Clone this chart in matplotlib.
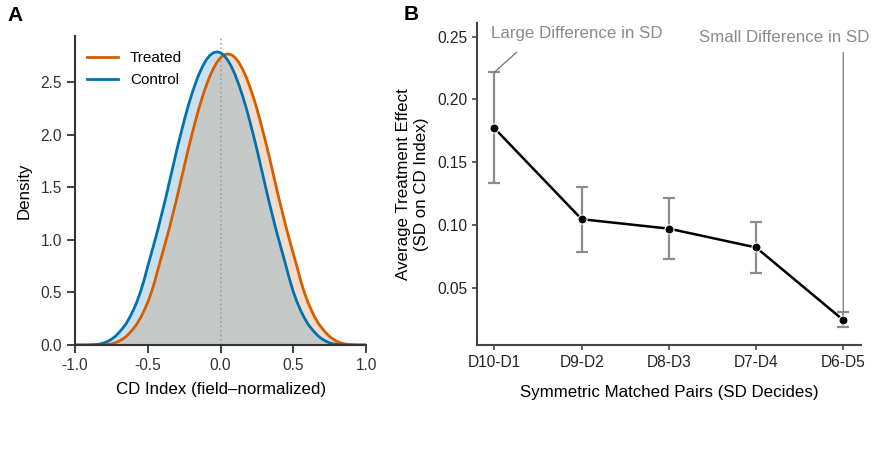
import numpy as np
import matplotlib
matplotlib.use("Agg")
import matplotlib.pyplot as plt

plt.rcParams['font.family'] = ['Liberation Sans', 'DejaVu Sans']
plt.rcParams['axes.unicode_minus'] = False

# ---- panel A: densities ----
cd_x = [-1.000, -0.975, -0.950, -0.925, -0.900, -0.875, -0.850, -0.825, -0.800, -0.775,
        -0.750, -0.725, -0.700, -0.675, -0.650, -0.625, -0.600, -0.575, -0.550, -0.525,
        -0.500, -0.475, -0.450, -0.425, -0.400, -0.375, -0.350, -0.325, -0.300, -0.275,
        -0.250, -0.225, -0.200, -0.175, -0.150, -0.125, -0.100, -0.075, -0.050, -0.025,
        0.000, 0.025, 0.050, 0.075, 0.100, 0.125, 0.150, 0.175, 0.200, 0.225,
        0.250, 0.275, 0.300, 0.325, 0.350, 0.375, 0.400, 0.425, 0.450, 0.475,
        0.500, 0.525, 0.550, 0.575, 0.600, 0.625, 0.650, 0.675, 0.700, 0.725,
        0.750, 0.775, 0.800, 0.825, 0.850, 0.875, 0.900, 0.925, 0.950, 0.975, 1.000]
control_density = [0.0, 0.0, 0.0, 0.0, 0.001, 0.003, 0.006, 0.011, 0.02, 0.035,
                   0.055, 0.08, 0.115, 0.155, 0.20, 0.26, 0.33, 0.41, 0.505, 0.62,
                   0.75, 0.875, 1.00, 1.13, 1.27, 1.41, 1.56, 1.71, 1.86, 2.00,
                   2.135, 2.262, 2.377, 2.48, 2.572, 2.648, 2.71, 2.754, 2.781, 2.79,
                   2.781, 2.754, 2.71, 2.648, 2.572, 2.48, 2.377, 2.262, 2.135, 2.00,
                   1.86, 1.71, 1.56, 1.41, 1.27, 1.13, 1.00, 0.875, 0.75, 0.62,
                   0.505, 0.41, 0.33, 0.26, 0.20, 0.155, 0.115, 0.08, 0.055, 0.035,
                   0.02, 0.011, 0.006, 0.003, 0.001, 0.0, 0.0, 0.0, 0.0, 0.0, 0.0]
treated_density = [0.0, 0.0, 0.0, 0.0, 0.0, 0.0, 0.0, 0.001, 0.003, 0.006,
                   0.011, 0.02, 0.035, 0.055, 0.079, 0.114, 0.154, 0.199, 0.258, 0.328,
                   0.407, 0.501, 0.616, 0.745, 0.869, 0.993, 1.122, 1.261, 1.40, 1.549,
                   1.698, 1.847, 1.986, 2.12, 2.246, 2.36, 2.463, 2.554, 2.629, 2.691,
                   2.735, 2.762, 2.77, 2.762, 2.735, 2.691, 2.629, 2.554, 2.463, 2.36,
                   2.246, 2.12, 1.986, 1.847, 1.698, 1.549, 1.40, 1.261, 1.122, 0.993,
                   0.869, 0.745, 0.616, 0.501, 0.407, 0.328, 0.258, 0.199, 0.154, 0.114,
                   0.079, 0.055, 0.035, 0.02, 0.011, 0.006, 0.003, 0.001, 0.0, 0.0, 0.0]

# ---- panel B: treatment effect by matched SD pair ----
pairs = ['D10-D1', 'D9-D2', 'D8-D3', 'D7-D4', 'D6-D5']
effect = [0.177, 0.1045, 0.097, 0.082, 0.0242]
ci_low = [0.133, 0.0785, 0.073, 0.0617, 0.0184]
ci_high = [0.2216, 0.1304, 0.121, 0.1024, 0.0306]

blue = '#0072B2'
orange = '#D55E00'
grey_txt = '#8a8a8a'
lab_fs = 12.2
tick_fs = 11.2

fig = plt.figure(figsize=(8.77, 4.51), dpi=100)
axA = fig.add_axes([0.0855, 0.235, 0.332, 0.685])
axB = fig.add_axes([0.5439, 0.235, 0.4375, 0.7146])

# panel A
x = np.array(cd_x)
ctrl = np.array(control_density)
trt = np.array(treated_density)
axA.fill_between(x, 0, trt, color='#f4dcca', lw=0)
axA.fill_between(x, 0, ctrl, color='#cbe0ed', lw=0)
axA.fill_between(x, 0, np.minimum(ctrl, trt), color='#c5c9c7', lw=0)
# dotted zero line shows through the fills but sits under the curves
axA.axvline(0, color='#a0a0a0', ls=':', lw=1.2, zorder=1.5)
axA.plot(x, trt, color=orange, lw=2, label='Treated', zorder=2)
axA.plot(x, ctrl, color=blue, lw=2, label='Control', zorder=2.1)
axA.set_xlim(-1, 1)
axA.set_ylim(0, 2.94)
axA.set_xticks([-1.0, -0.5, 0.0, 0.5, 1.0])
axA.set_yticks([0.0, 0.5, 1.0, 1.5, 2.0, 2.5])
axA.set_xlabel('CD Index (field\u2013normalized)', fontsize=lab_fs, labelpad=6)
axA.set_ylabel('Density', fontsize=lab_fs, labelpad=6)
axA.legend(loc='upper left', frameon=False, fontsize=11, handlelength=2.0,
           handletextpad=0.8, labelspacing=0.5, bbox_to_anchor=(-0.005, 0.995))
for s in ['top', 'right']:
    axA.spines[s].set_visible(False)
for s in ['left', 'bottom']:
    axA.spines[s].set_color('#333333')
    axA.spines[s].set_linewidth(1.5)
axA.tick_params(labelsize=tick_fs, length=6, width=1.3, color='#333333', labelcolor='#333333')

# panel B
pos = np.arange(len(pairs))
eff = np.array(effect)
lo = np.array(ci_low)
hi = np.array(ci_high)
axB.errorbar(pos, eff, yerr=[eff - lo, hi - eff], fmt='none', ecolor='#8c8c8c',
             elinewidth=1.6, capsize=4, capthick=1.6, zorder=1)
axB.plot(pos, eff, color='black', lw=1.8, zorder=2)
axB.plot(pos, eff, 'o', color='black', ms=6.5, mec='white', mew=0.8, zorder=3)

axB.annotate('', xy=(pos[0], hi[0]), xytext=(16, 14.4), textcoords='offset points',
             arrowprops=dict(arrowstyle='-', color='#777777', lw=0.9,
                             shrinkA=0, shrinkB=0))
axB.text(-0.04, 0.2527, 'Large Difference in SD', color=grey_txt, fontsize=12.2,
         ha='left', va='center')
axB.annotate('', xy=(pos[-1], hi[-1]), xytext=(pos[-1], 0.2372), textcoords='data',
             arrowprops=dict(arrowstyle='-', color='#777777', lw=0.9,
                             shrinkA=0, shrinkB=0))
axB.text(4.30, 0.249, 'Small Difference in SD', color=grey_txt, fontsize=12.2,
         ha='right', va='center', clip_on=False)

axB.set_xlim(-0.2, 4.2)
axB.set_ylim(0.0043, 0.261)
axB.set_xticks(pos)
axB.set_xticklabels(pairs)
axB.set_yticks([0.05, 0.10, 0.15, 0.20, 0.25])
axB.set_xlabel('Symmetric Matched Pairs (SD Decides)', fontsize=lab_fs, labelpad=11)
axB.set_ylabel('Average Treatment Effect\n(SD on CD Index)', fontsize=lab_fs, labelpad=6)
for s in ['top', 'right']:
    axB.spines[s].set_visible(False)
for s in ['left', 'bottom']:
    axB.spines[s].set_color('#444444')
    axB.spines[s].set_linewidth(1.5)
axB.tick_params(labelsize=tick_fs, length=3.5, width=1.2, color='#444444', labelcolor='#222222')

fig.text(0.017, 0.965, 'A', fontsize=15, fontweight='bold', ha='center', va='center')
fig.text(0.469, 0.968, 'B', fontsize=15, fontweight='bold', ha='center', va='center')

fig.savefig('out.png', dpi=100)
